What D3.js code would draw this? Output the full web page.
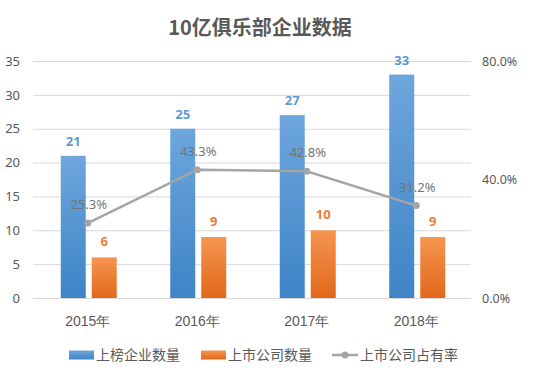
<!DOCTYPE html>
<html>
<head>
<meta charset="utf-8">
<script src="https://cdn.jsdelivr.net/npm/d3@7"></script>
<style>
  body { margin: 0; background: #fff; }
  svg { display: block; font-family: "Noto Sans CJK SC", "Noto Sans", sans-serif; }
</style>
</head>
<body>
<div id="chart"></div>
<script>
// data
const years = ["2015年", "2016年", "2017年", "2018年"]
const rankedCount = [21, 25, 27, 33]      // 上榜企业数量
const listedCount = [6, 9, 10, 9]         // 上市公司数量
const listedShare = [0.253, 0.433, 0.428, 0.312]  // 上市公司占有率
const leftTicks = [0, 5, 10, 15, 20, 25, 30, 35]
const rightTicks = [0, 0.4, 0.8]
const seriesNames = ["上榜企业数量", "上市公司数量", "上市公司占有率"]

const width = 549, height = 374
const margin = { top: 61, right: 78, bottom: 76, left: 33 }

const svg = d3.select("#chart")
  .append("svg")
  .attr("width", width)
  .attr("height", height)

// gradients for the bars
const defs = svg.append("defs")
function grad(id, top, bottom) {
  const g = defs.append("linearGradient").attr("id", id)
    .attr("x1", 0).attr("y1", 0).attr("x2", 0).attr("y2", 1)
  g.append("stop").attr("offset", "0%").attr("stop-color", top)
  g.append("stop").attr("offset", "100%").attr("stop-color", bottom)
}
grad("gBlue", "#6ea6dd", "#3e84c6")
grad("gOrange", "#f5954f", "#e2681b")

// title
svg.append("text")
  .attr("x", 260)
  .attr("y", 35)
  .attr("text-anchor", "middle")
  .attr("font-size", "20px")
  .attr("font-weight", "bold")
  .attr("fill", "#595959")
  .text("10亿俱乐部企业数据")

// scales
const x = d3.scaleBand()
  .domain(years)
  .range([margin.left, width - margin.right])
  .padding(0)

const x1 = d3.scaleBand()
  .domain(["ranked", "listed"])
  .range([x.bandwidth() / 2 - 27, x.bandwidth() / 2 + 29])
  .paddingInner(0.194)

const y = d3.scaleLinear()
  .domain([0, 35])
  .range([height - margin.bottom, margin.top])

const y2 = d3.scaleLinear()
  .domain([0, 0.8])
  .range([height - margin.bottom, margin.top])

// gridlines
svg.append("g")
  .selectAll("line")
  .data(leftTicks)
  .enter()
  .append("line")
  .attr("x1", margin.left)
  .attr("x2", width - margin.right)
  .attr("y1", d => y(d) + 0.5)
  .attr("y2", d => y(d) + 0.5)
  .attr("stroke", "#d9d9d9")
  .attr("stroke-width", 1)

// left axis
const yAxis = svg.append("g")
  .attr("transform", "translate(" + (margin.left - 13) + ",0)")
  .call(d3.axisLeft(y).tickValues(leftTicks).tickSize(0).tickPadding(0))
yAxis.select(".domain").remove()
yAxis.selectAll("text")
  .attr("fill", "#595959")
  .attr("font-size", "13px")
  .attr("font-family", "\"Noto Sans\", sans-serif")

// right axis
const y2Axis = svg.append("g")
  .attr("transform", "translate(" + (width - margin.right + 11) + ",0)")
  .call(d3.axisRight(y2).tickValues(rightTicks).tickSize(0).tickPadding(0)
    .tickFormat(d3.format(".1%")))
y2Axis.select(".domain").remove()
y2Axis.selectAll("text")
  .attr("fill", "#595959")
  .attr("font-size", "12.5px")
  .attr("font-family", "\"Noto Sans\", sans-serif")

// x axis labels
const xAxis = svg.append("g")
  .attr("transform", "translate(0," + (height - margin.bottom) + ")")
  .call(d3.axisBottom(x).tickSize(0).tickPadding(18))
xAxis.select(".domain").remove()
xAxis.selectAll("text")
  .attr("fill", "#595959")
  .attr("font-size", "14px")

// bars
const groups = svg.append("g")
  .selectAll("g")
  .data(years)
  .enter()
  .append("g")
  .attr("transform", d => "translate(" + x(d) + ",0)")

groups.append("rect")
  .attr("x", x1("ranked"))
  .attr("y", (d, i) => y(rankedCount[i]))
  .attr("width", x1.bandwidth())
  .attr("height", (d, i) => y(0) - y(rankedCount[i]))
  .attr("fill", "url(#gBlue)")

groups.append("rect")
  .attr("x", x1("listed"))
  .attr("y", (d, i) => y(listedCount[i]))
  .attr("width", x1.bandwidth())
  .attr("height", (d, i) => y(0) - y(listedCount[i]))
  .attr("fill", "url(#gOrange)")

groups.append("text")
  .attr("x", x1("ranked") + x1.bandwidth() / 2)
  .attr("y", (d, i) => y(rankedCount[i]) - 10)
  .attr("text-anchor", "middle")
  .attr("font-size", "13px")
  .attr("font-weight", "bold")
  .attr("fill", "#5b9bd5")
  .attr("font-family", "\"Noto Sans\", sans-serif")
  .text((d, i) => rankedCount[i])

groups.append("text")
  .attr("x", x1("listed") + x1.bandwidth() / 2)
  .attr("y", (d, i) => y(listedCount[i]) - 11)
  .attr("text-anchor", "middle")
  .attr("font-size", "13px")
  .attr("font-weight", "bold")
  .attr("fill", "#ed7d31")
  .attr("font-family", "\"Noto Sans\", sans-serif")
  .text((d, i) => listedCount[i])

// share line
const line = d3.line()
  .x((d, i) => x(years[i]) + x.bandwidth() / 2)
  .y(d => y2(d))

svg.append("path")
  .datum(listedShare)
  .attr("d", line)
  .attr("fill", "none")
  .attr("stroke", "#a5a5a5")
  .attr("stroke-width", 2.5)

svg.append("g")
  .selectAll("circle")
  .data(listedShare)
  .enter()
  .append("circle")
  .attr("cx", (d, i) => x(years[i]) + x.bandwidth() / 2)
  .attr("cy", d => y2(d))
  .attr("r", 3.5)
  .attr("fill", "#a5a5a5")

svg.append("g")
  .selectAll("text")
  .data(listedShare)
  .enter()
  .append("text")
  .attr("x", (d, i) => x(years[i]) + x.bandwidth() / 2 + 1)
  .attr("y", d => y2(d) - 14)
  .attr("text-anchor", "middle")
  .attr("font-size", "13px")
  .attr("fill", "#747474")
  .attr("font-family", "\"Noto Sans\", sans-serif")
  .text(d => d3.format(".1%")(d))

// legend
const legendY = 355
const legend = svg.append("g")

legend.append("rect")
  .attr("x", 69).attr("y", legendY - 4.5)
  .attr("width", 25).attr("height", 9)
  .attr("fill", "url(#gBlue)")
legend.append("text")
  .attr("x", 96).attr("y", legendY + 5)
  .attr("font-size", "14px").attr("fill", "#595959")
  .text(seriesNames[0])

legend.append("rect")
  .attr("x", 201).attr("y", legendY - 4.5)
  .attr("width", 25).attr("height", 9)
  .attr("fill", "url(#gOrange)")
legend.append("text")
  .attr("x", 228).attr("y", legendY + 5)
  .attr("font-size", "14px").attr("fill", "#595959")
  .text(seriesNames[1])

legend.append("line")
  .attr("x1", 332).attr("x2", 358)
  .attr("y1", legendY).attr("y2", legendY)
  .attr("stroke", "#a5a5a5").attr("stroke-width", 2.5)
legend.append("circle")
  .attr("cx", 345).attr("cy", legendY).attr("r", 3.5)
  .attr("fill", "#a5a5a5")
legend.append("text")
  .attr("x", 360).attr("y", legendY + 5)
  .attr("font-size", "14px").attr("fill", "#595959")
  .text(seriesNames[2])
</script>
</body>
</html>
